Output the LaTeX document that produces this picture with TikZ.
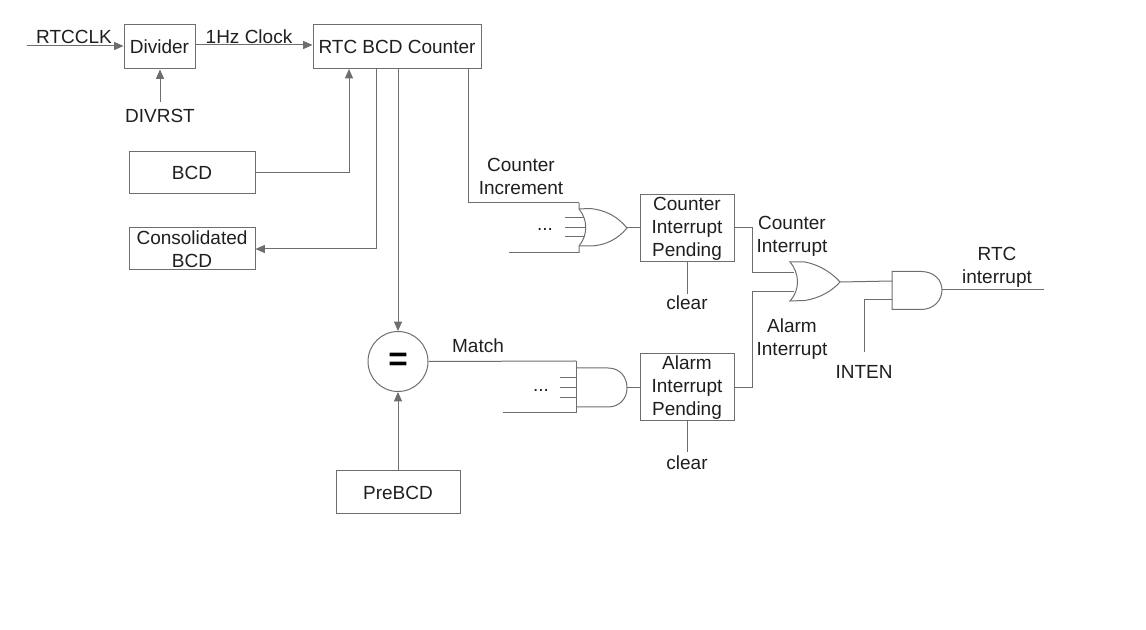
\documentclass[tikz,border=0pt]{standalone}
\usepackage{fontspec}
\setmainfont{Liberation Sans}
\usetikzlibrary{arrows.meta}
\definecolor{ln}{HTML}{6E6E6E}
\tikzset{
  x=0.75pt,y=-0.75pt,
  lbl/.style={font=\fontsize{14.25}{17.25}\selectfont,text=black!88,inner sep=0pt,align=center},
  blk/.style={draw=ln,line width=0.75pt,fill=white,inner sep=0pt,align=center,font=\fontsize{14.25}{17.25}\selectfont,text=black!88},
  wire/.style={draw=ln,line width=0.75pt},
  arr/.style={wire,-{Triangle[length=7pt,width=6pt]}},
  gate/.style={draw=ln,line width=0.75pt},
}
\begin{document}
\begin{tikzpicture}
\useasboundingbox (0,0) rectangle (1146,630);
% blocks
\node[blk,minimum width=53.25pt,minimum height=33pt] (div) at (159.5,47) {Divider};
\node[blk,minimum width=126pt,minimum height=33pt] (cnt) at (397,47) {RTC BCD Counter};
\node[blk,minimum width=94.5pt,minimum height=31.5pt] (bcd) at (192,173) {BCD};
\node[blk,minimum width=94.5pt,minimum height=31.5pt] (cons) at (192,249) {Consolidated\\BCD};
\node[blk,minimum width=93pt,minimum height=32.25pt] (pre) at (398,492.5) {PreBCD};
\node[blk,minimum width=70.5pt,minimum height=50.25pt] (cip) at (687,228.5) {Counter\\Interrupt\\Pending};
\node[blk,minimum width=70.5pt,minimum height=50.25pt] (aip) at (687,387.5) {Alarm\\Interrupt\\Pending};
\node[draw=ln,line width=0.75pt,circle,minimum size=45pt,inner sep=0pt,font=\fontsize{25}{25}\selectfont\bfseries] (eq) at (398,361.5) {=};
% free ends
\coordinate (clkin) at (27,46);
\coordinate (divrst) at (160,102);
\coordinate (clr1) at (687,294);
\coordinate (clr2) at (687,452);
\coordinate (inten) at (864,352);
\coordinate (rtcout) at (1044,290);
\coordinate (orAtopin) at (579,203);
\coordinate (orAbotin) at (509,253);
\coordinate (orAbotc) at (579,253);
\coordinate (andAtop) at (576,361);
\coordinate (andAbotin) at (503,413);
\coordinate (andAbotc) at (576,413);
\coordinate (orAout) at (627,228);
\coordinate (andAout) at (627,388);
\coordinate (orBout) at (840,282);
\coordinate (andBin) at (892,281);
\coordinate (andBin2) at (892,300);
\coordinate (andBout) at (942,290);
\coordinate (orBin1) at (794,273);
\coordinate (orBin2) at (794,292);
% connectors
\draw[arr] (clkin) -- (div.west|-clkin);
\draw[arr] (divrst) -- (div.south-|divrst);
\draw[arr] (div.east|-0,45) -- (cnt.west|-0,45);
\draw[arr] (bcd.east) -- (349,173) -- (349,69);
\draw[arr] (376,69) -- (376,249) -- (cons.east);
\draw[arr] (cnt.south-|eq) -- (eq.north);
\draw[arr] (pre.north-|eq) -- (eq.south);
\draw[wire] (468,69) -- (468,203) -- (orAtopin);
\draw[wire] (eq.east) -- (andAtop);
\draw[wire] (orAbotin) -- (orAbotc);
\draw[wire] (andAbotin) -- (andAbotc);
\draw[wire] (orAout) -- (cip.west|-orAout);
\draw[wire] (andAout) -- (aip.west|-andAout);
\draw[wire] (cip.south-|clr1) -- (clr1);
\draw[wire] (aip.south-|clr2) -- (clr2);
\draw[wire] (734,228) -- (752,228) -- (752,273) -- (orBin1);
\draw[wire] (734,388) -- (752,388) -- (752,292) -- (orBin2);
\draw[wire] (orBout) -- (andBin);
\draw[wire] (inten) -- (864,300) -- (andBin2);
\draw[wire] (andBout) -- (rtcout);
% OR gate A
\draw[wire] (565,218) -- (584,218) (565,228) -- (586,228) (565,237) -- (584,237);
\draw[gate] (orAtopin) -- (579,209) .. controls (588,220) and (588,235) .. (579,246) -- (orAbotc);
\draw[gate] (579,209) -- (590,208.5) .. controls (606,210) and (618,217) .. (orAout) .. controls (618,239) and (606,245) .. (592,246) -- (579,246);
% AND gate A
\draw[wire] (560,378) -- (576,378) (560,388) -- (576,388) (560,398) -- (576,398);
\draw[gate] (andAtop) -- (andAbotc);
\draw[gate] (576,368) -- (608,368) .. controls (620,368) and (627,377) .. (andAout) .. controls (627,398) and (620,407) .. (608,407) -- (576,407);
% OR gate B
\draw[gate] (790,262) .. controls (800,274) and (800,290) .. (790,301) -- (805,300.5) .. controls (820,298) and (832,291) .. (orBout) .. controls (832,273) and (820,265) .. (805,262) -- cycle;
% AND gate B
\draw[gate] (892,271.5) -- (921,271.5) .. controls (934,271.5) and (942,280) .. (andBout) .. controls (942,300) and (934,309.5) .. (921,309.5) -- (892,309.5) -- cycle;
% labels
\node[lbl] (t1) at (74,36.5) {RTCCLK};
\node[lbl] (t2) at (160,116) {DIVRST};
\node[lbl] (t3) at (249,36.5) {1Hz Clock};
\node[lbl] (t4) at (521,176) {Counter\\Increment};
\node[lbl] (t5) at (792,236) {Counter\\Interrupt};
\node[lbl] (t6) at (792,339) {Alarm\\Interrupt};
\node[lbl] (t7) at (997,267) {RTC\\interrupt};
\node[lbl] (t8) at (864,372) {INTEN};
\node[lbl] (t9) at (478,346) {Match};
\node[lbl] (t10) at (687,303) {clear};
\node[lbl] (t11) at (687,463) {clear};
\node[lbl] (t12) at (545,229) {...};
\node[lbl] (t13) at (541,390) {...};
\end{tikzpicture}
\end{document}
